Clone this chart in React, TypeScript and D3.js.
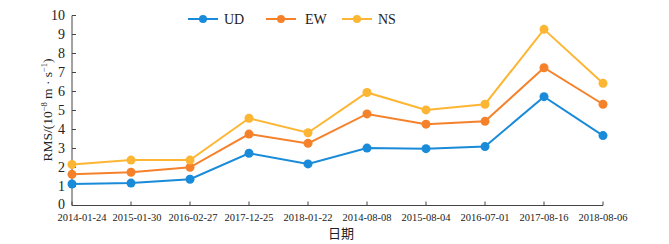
import React from "react";
import * as d3 from "d3";

const categories = [
  "2014-01-24", "2015-01-30", "2016-02-27", "2017-12-25", "2018-01-22",
  "2014-08-08", "2015-08-04", "2016-07-01", "2017-08-16", "2018-08-06",
];
const UD = [1.13, 1.18, 1.38, 2.75, 2.19, 3.02, 2.99, 3.1, 5.73, 3.68];
const EW = [1.64, 1.75, 2.01, 3.76, 3.27, 4.82, 4.28, 4.43, 7.25, 5.33];
const NS = [2.16, 2.39, 2.39, 4.59, 3.83, 5.95, 5.03, 5.33, 9.27, 6.43];
const yTicks = [0, 1, 2, 3, 4, 5, 6, 7, 8, 9, 10];
const seriesNames = ["UD", "EW", "NS"];
const colors = ["#1a8bd9", "#f5822b", "#fdb634"];

const W = 669, H = 244;
const left = 72, right = 603, top = 15.5, bottom = 205.5;
const serif = "Liberation Serif, Times New Roman, serif";

export default function App() {
  const x = d3.scalePoint<string>().domain(categories).range([left, right]).padding(0);
  const y = d3.scaleLinear().domain([0, 10]).range([bottom, top]);
  const line = d3.line<number>().x((_, i) => x(categories[i])!).y((d) => y(d));
  const data = [UD, EW, NS];
  const legendX = [188, 266, 342];
  return (
    <svg width={W} height={H} style={{ position: "absolute", left: 0, top: 0, background: "#fff" }}>
      <line x1={left} x2={left} y1={top} y2={bottom} stroke="#444" strokeWidth={1} />
      {yTicks.map((t) => (
        <g key={t}>
          <line x1={left} x2={left + 4} y1={y(t)} y2={y(t)} stroke="#444" />
          <text x={65} y={y(t) - (t === 0 ? 1 : 0)} dy="0.35em" textAnchor="end" fontFamily={serif} fontSize={14} fill="#222">{t}</text>
        </g>
      ))}
      <line x1={left} x2={right} y1={bottom} y2={bottom} stroke="#444" strokeWidth={1} />
      {categories.map((c, i) => (
        <g key={c}>
          <line x1={x(c)} x2={x(c)} y1={bottom} y2={bottom - 4} stroke="#444" />
          <text x={x(c)! + (i === 0 ? 10 : i === 1 ? 6 : i === 2 ? 3 : 0)} y={220.5} textAnchor="middle" fontFamily={serif} fontSize={10.5} fill="#222">{c}</text>
        </g>
      ))}
      <text x={341} y={238} textAnchor="middle" fontFamily="Noto Sans CJK SC, sans-serif" fontSize={13} fill="#222">日期</text>
      <text transform={`translate(52,110) rotate(-90)`} textAnchor="middle" fontFamily={serif} fontSize={13.5} fill="#222">
        RMS/(10<tspan dy={-5} fontSize={8.5}>−8</tspan><tspan dy={5}> m · s</tspan><tspan dy={-5} fontSize={8.5}>−1</tspan><tspan dy={5}>)</tspan>
      </text>
      {data.map((s, k) => (
        <g key={seriesNames[k]}>
          <path d={line(s)!} fill="none" stroke={colors[k]} strokeWidth={2} />
          {s.map((v, i) => (
            <circle key={i} cx={x(categories[i])} cy={y(v)} r={4.5} fill={colors[k]} />
          ))}
        </g>
      ))}
      {seriesNames.map((n, k) => (
        <g key={n}>
          <line x1={legendX[k]} x2={legendX[k] + 30} y1={19} y2={19} stroke={colors[k]} strokeWidth={2} />
          <circle cx={legendX[k] + 15} cy={19} r={4} fill={colors[k]} />
          <text x={legendX[k] + 36 + (k === 1 ? 3 : 0)} y={19} dy="0.35em" fontFamily={serif} fontSize={14} fill="#222">{n}</text>
        </g>
      ))}
    </svg>
  );
}
